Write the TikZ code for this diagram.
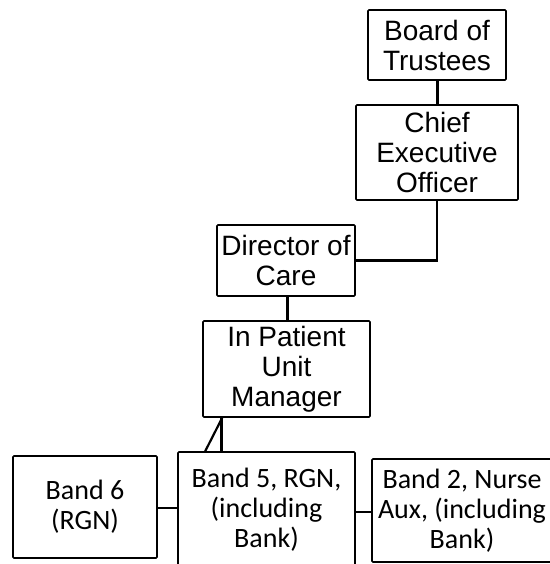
\documentclass[tikz,border=0pt]{standalone}
\usepackage{fontspec}
\setmainfont{Liberation Sans}
\newfontfamily\bandfont{Carlito}
\begin{document}
\begin{tikzpicture}[x=1pt,y=-1pt,
    post/.style={draw,line width=1.6pt,rounded corners=1pt,align=center,inner sep=0pt,
      font=\fontsize{28}{30}\selectfont},
    band/.style={post,font=\bandfont\fontsize{28}{30}\selectfont},
    link/.style={line width=2.2pt}]
  \useasboundingbox (0,0) rectangle (549,564);

  %%%%%%%%%%%%%%%%%%%%%%%%%%%%%%%%%%%%%%%%%%%%%%%%%%%%%%%%%%%%%%%%%%%%%%%%%%%
  %%%%  Management line
  \node[post,minimum width=138pt,minimum height=70pt] (board) at (437,45) {Board of\\Trustees};
  \node[post,minimum width=162pt,minimum height=95pt] (ceo) at (437,152.5) {Chief\\Executive\\Officer};
  \node[post,minimum width=138pt,minimum height=71pt] (director) at (286,260.5) {Director of\\Care};
  \node[post,minimum width=167pt,minimum height=96pt] (ipum) at (286.5,369) {In Patient\\Unit\\Manager};

  \draw[link,line width=3pt] (board) -- (ceo);
  \draw[link] (ceo.south) |- (director.east);
  \draw[link,line width=3pt] ([xshift=1pt]director.south) -- ([xshift=0.5pt]ipum.north);

  %%%%%%%%%%%%%%%%%%%%%%%%%%%%%%%%%%%%%%%%%%%%%%%%%%%%%%%%%%%%%%%%%%%%%%%%%%%
  %%%%  Nursing bands
  \node[band,minimum width=144pt,minimum height=102pt] (band6) at (85,507) {Band 6\\(RGN)};
  \node[band,minimum width=177pt,minimum height=116pt] (band5) at (266.5,510) {Band 5, RGN,\\(including\\Bank)};
  \node[band,minimum width=180pt,minimum height=103pt] (band2) at (462,510.5) {Band 2, Nurse\\Aux, (including\\Bank)};

  \draw[link,line width=3pt] ([xshift=19pt]ipum.south west) -- ([xshift=44pt]band5.north west);
  \draw[link] ([xshift=20pt]ipum.south west) -- ([xshift=28pt]band5.north west);
  \draw[link] (band6.east |- 0,508) -- (band5.west |- 0,508);
  \draw[link] (band5.east |- 0,512) -- (band2.west |- 0,512);
\end{tikzpicture}
\end{document}
